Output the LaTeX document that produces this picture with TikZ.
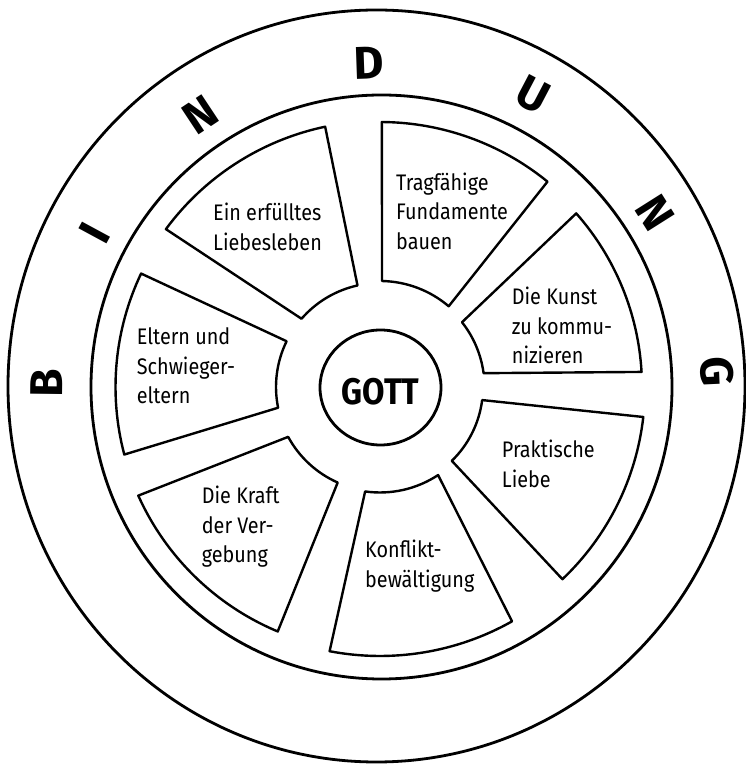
\documentclass[tikz,border=0pt]{standalone}
\usepackage{fontspec}
\setmainfont{Fira Sans}[FakeStretch=0.88]
\newfontfamily\ringfont{Fira Sans}
\tikzset{
  seg/.style={draw, line width=2.4pt, line join=round},
  ringline/.style={draw, line width=2.8pt},
  lbl/.style={anchor=base west, align=left, inner sep=0pt, font=\fontsize{22.5}{29.3}\selectfont},
  ringletter/.style={font=\ringfont\bfseries\fontsize{46}{46}\selectfont, inner sep=0pt, anchor=center},
}
% #1 A, #2 B (outer arc), #3 Ro, #4 B', #5 A' (inner arc), #6 Ri
\newcommand\wheelseg[6]{%
  \draw[seg] (#1:#3) arc[start angle=#1, end angle=#2, radius=#3]
    -- (#4:#6) arc[start angle=#4, end angle=#5, radius=#6] -- cycle;}
\newcommand\ringlet[4]{%
  \node[ringletter, rotate=#2-90] (#4) at (#2:#3) {#1};}
\begin{document}
\begin{tikzpicture}[x=1pt, y=1pt]
\useasboundingbox (0,0) rectangle (746,765);
\fill[white] (0,0) rectangle (746,765);
% outer ring
\draw[ringline] (376.5,379) ellipse [x radius=368.5, y radius=376];
\draw[ringline] (381.5,378) ellipse [x radius=290.5, y radius=292];
% hub
\draw[ringline] (380.5,377.5) ellipse [x radius=60.5, y radius=57.5];
\node[font=\bfseries\fontsize{37}{37}\selectfont, anchor=base, inner sep=0pt] (gott) at (380.5,360) {GOTT};
\begin{scope}[shift={(380,378)}]
  \wheelseg{143.6}{101.9}{266}{102.5}{139}{104}
  \wheelseg{89.6}{50.8}{265}{49.6}{88.9}{106}
  \wheelseg{41.5}{3.3}{262}{7.6}{38.3}{104.5}
  \wheelseg{-6.5}{-46.5}{265}{-45.8}{-7.3}{103}
  \wheelseg{-60.6}{-100.8}{269}{-98.1}{-56.6}{105.5}
  \wheelseg{-112.7}{-155.8}{265}{-151.5}{-113.9}{104.5}
  \wheelseg{194.8}{154.6}{264.5}{153.9}{191.5}{104}
  \ringlet{B}{179.3}{333}{lb}
  \ringlet{I}{151.6}{324}{li}
  \ringlet{N}{123.5}{326}{ln1}
  \ringlet{D}{92}{324}{ld}
  \ringlet{U}{62.3}{330}{lu}
  \ringlet{N}{32.3}{325}{ln2}
  \ringlet{G}{2.6}{337}{lg}
\end{scope}
% anchor = baseline of the last line
\node[lbl] (ein) at (213,514.7) {Ein erfülltes\\Liebesleben};
\node[lbl] (trag) at (396,515.7) {Tragfähige\\Fundamente\\bauen};
\node[lbl] (kunst) at (511.7,401.4) {Die Kunst\\zu kommu-\\nizieren};
\node[lbl] (prakt) at (501.7,277.7) {Praktische\\Liebe};
\node[lbl] (konf) at (365,177.7) {Konflikt-\\bewältigung};
\node[lbl] (kraft) at (201.7,202.4) {Die Kraft\\der Ver-\\gebung};
\node[lbl] (eltern) at (136.7,361.4) {Eltern und\\Schwieger-\\eltern};
\end{tikzpicture}
\end{document}
